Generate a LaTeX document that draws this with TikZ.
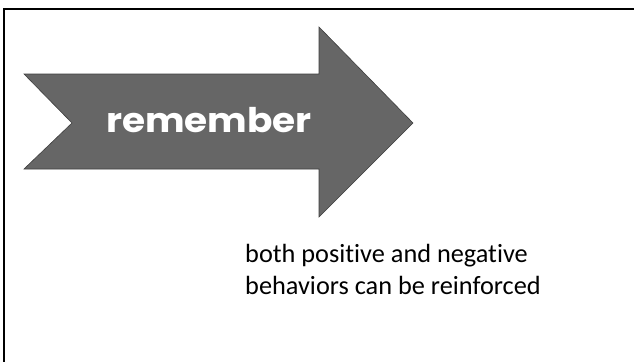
\documentclass[tikz,border=0pt]{standalone}
\usepackage{graphicx}
\usepackage{fontspec}
\setmainfont{Carlito}[Ligatures=NoCommon]
\newfontfamily\roundfont{Poppins}
\usetikzlibrary{calc}

\definecolor{arrowgray}{HTML}{666666}
\definecolor{edgegray}{HTML}{3F3F3F}

\begin{document}
\begin{tikzpicture}[x=1pt, y=-1pt]
        \useasboundingbox (0,0) rectangle (634,362);
        \draw[line width=2pt](634,9)--(4,9)--(4,362);
        \draw[fill=arrowgray, draw=edgegray, line width=0.6pt, line join=miter]
            (24,74)--(319,74)--(319,27)--(413,123)--(319,217)--(319,169)--(24,169)--(72,123)--cycle;
        \node[anchor=base west, inner sep=0pt, text=white] (word) at (106,132)
            {\scalebox{1.1}[1]{\roundfont\fontsize{34}{38}\selectfont\bfseries remember}};
        \node[anchor=base west, inner sep=0pt, align=left] (line1) at (245,262)
            {\fontsize{26.3}{32}\selectfont both positive and negative};
        \node[anchor=base west, inner sep=0pt, align=left] (line2) at (245,294)
            {\fontsize{26.3}{32}\selectfont behaviors can be reinforced};
    \end{tikzpicture}
\end{document}
